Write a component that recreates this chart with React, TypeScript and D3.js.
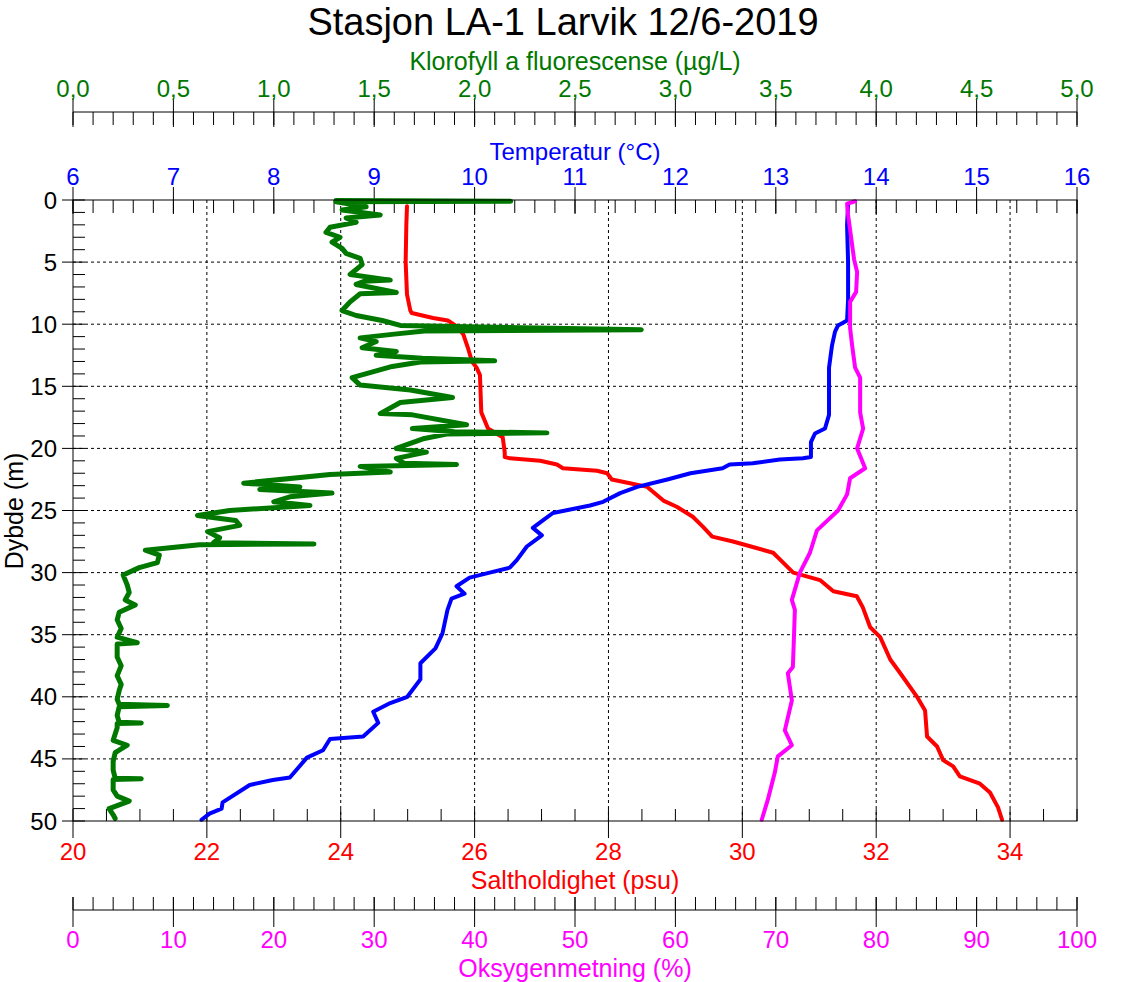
import React from 'react';
import * as d3 from 'd3';

const width = 1127;
const height = 982;
const left = 73, right = 1077, top = 200, bottom = 821;
const font = 'Liberation Sans, Arial, sans-serif';

// depth (m) / value pairs
const tempDepth = [0.4, 2, 5, 8, 9.7, 10.1, 10.6, 11.7, 13.5, 17.3, 18.4, 18.8, 19.5, 20.7, 20.8, 20.9, 21.2, 21.3, 21.6, 22, 22.5, 23.1, 23.6, 24.3, 24.6, 25.2, 25.8, 26.4, 27, 27.9, 29, 29.6, 30, 30.4, 31.1, 31.7, 32.1, 33, 34.9, 36.1, 37.3, 38.6, 40, 40.5, 41.2, 42.1, 43.2, 43.4, 44.3, 44.9, 46.5, 46.7, 47.1, 48.5, 49, 49.4, 49.9];
const tempValues = [13.72, 13.71, 13.72, 13.72, 13.71, 13.62, 13.59, 13.56, 13.53, 13.53, 13.49, 13.39, 13.35, 13.35, 13.27, 13.04, 12.77, 12.54, 12.47, 12.15, 11.92, 11.62, 11.45, 11.28, 11.15, 10.78, 10.68, 10.58, 10.67, 10.52, 10.42, 10.35, 10.15, 9.95, 9.82, 9.9, 9.77, 9.73, 9.68, 9.61, 9.46, 9.46, 9.33, 9.16, 8.99, 9.04, 8.89, 8.56, 8.49, 8.33, 8.16, 7.99, 7.76, 7.49, 7.48, 7.36, 7.28];

const salDepth = [0.5, 2, 5, 7.6, 8.9, 9.1, 9.5, 9.7, 10.2, 10.8, 11.9, 13, 13.5, 14.1, 17.1, 18.4, 19.1, 20.3, 20.7, 20.8, 21, 21.3, 21.6, 21.8, 22, 22.5, 22.8, 23.1, 24.2, 24.7, 25.5, 26.3, 27.1, 27.5, 28.4, 29.2, 30, 30.6, 31.5, 31.9, 32.8, 34.4, 35.2, 37, 38.1, 40, 41.1, 43.2, 44, 45.1, 45.6, 46.4, 47, 47.7, 48.9, 49.9];
const salValues = [24.99, 24.98, 24.97, 24.99, 25.04, 25.06, 25.38, 25.6, 25.74, 25.83, 25.9, 25.96, 26.03, 26.08, 26.1, 26.2, 26.42, 26.45, 26.45, 26.53, 26.98, 27.23, 27.32, 27.83, 27.98, 28.05, 28.32, 28.58, 28.82, 29.02, 29.26, 29.41, 29.55, 29.86, 30.46, 30.61, 30.76, 31.16, 31.36, 31.71, 31.8, 31.91, 32.06, 32.21, 32.36, 32.61, 32.73, 32.76, 32.91, 33.0, 33.15, 33.25, 33.55, 33.7, 33.82, 33.88];

const oxyDepth = [0.1, 0.3, 1.2, 3.6, 4.8, 5.8, 7.4, 8.2, 10.3, 11.7, 13.5, 14.3, 17.1, 18.4, 20, 21.6, 22.4, 23.7, 25, 26.6, 28.4, 30, 32.2, 33, 35.4, 37.6, 38.1, 40.3, 42.7, 43.9, 44.8, 46.1, 48.3, 49.9];
const oxyValues = [77.9, 77.1, 77.2, 77.6, 77.8, 78.1, 78.0, 77.4, 77.4, 77.6, 77.9, 78.4, 78.4, 78.7, 78.1, 78.9, 77.4, 77.1, 76.2, 74.1, 73.4, 72.4, 71.6, 71.9, 71.8, 71.7, 71.2, 71.6, 70.9, 71.6, 70.2, 69.9, 69.2, 68.6];

const chlDepth = [0.05, 0.1, 0.15, 0.55, 0.8, 1.2, 1.45, 1.8, 2.2, 2.6, 3.0, 3.4, 3.9, 4.3, 4.7, 5.2, 6.0, 6.45, 6.55, 6.8, 7.45, 7.55, 8.2, 8.9, 9.3, 9.7, 10.1, 10.45, 10.55, 10.8, 11.1, 11.4, 11.9, 12.2, 12.5, 12.75, 12.95, 13.05, 13.4, 14.3, 14.9, 15.3, 15.9, 16.3, 17.2, 17.3, 18.1, 18.4, 18.65, 18.75, 18.85, 19.2, 20.0, 20.3, 20.8, 21.2, 21.3, 21.45, 21.9, 22.1, 22.8, 23.1, 23.3, 23.6, 23.9, 24.3, 24.6, 25.0, 25.4, 25.8, 26.2, 26.7, 27.2, 27.6, 27.7, 27.75, 28.2, 28.6, 29.2, 29.6, 30.2, 31.0, 31.6, 32.2, 32.6, 33.2, 33.8, 34.5, 35.2, 35.65, 35.75, 36.3, 36.8, 37.5, 38.3, 39.0, 39.5, 40.2, 40.6, 40.7, 40.8, 41.5, 42.05, 42.1, 42.15, 42.5, 43.0, 43.5, 43.9, 44.5, 45.2, 45.9, 46.55, 46.6, 46.65, 47.0, 47.5, 48.0, 48.4, 49.0, 49.5, 49.8];
const chlValues = [1.31, 2.18, 1.31, 1.46, 1.34, 1.53, 1.36, 1.41, 1.28, 1.26, 1.33, 1.29, 1.34, 1.36, 1.43, 1.44, 1.38, 1.58, 1.45, 1.41, 1.61, 1.43, 1.38, 1.34, 1.41, 1.54, 1.63, 2.83, 1.75, 1.6, 1.43, 1.51, 1.44, 1.61, 1.51, 1.74, 2.10, 1.73, 1.59, 1.39, 1.43, 1.68, 1.89, 1.63, 1.53, 1.69, 1.96, 1.69, 1.9, 2.36, 1.86, 1.75, 1.61, 1.76, 1.61, 1.65, 1.91, 1.43, 1.58, 1.28, 0.85, 1.13, 0.93, 1.29, 1.08, 1.00, 1.18, 0.78, 0.62, 0.81, 0.83, 0.67, 0.73, 0.7, 1.20, 0.63, 0.36, 0.43, 0.42, 0.33, 0.25, 0.27, 0.28, 0.26, 0.31, 0.23, 0.22, 0.24, 0.22, 0.32, 0.22, 0.22, 0.22, 0.24, 0.22, 0.24, 0.23, 0.22, 0.23, 0.47, 0.23, 0.22, 0.23, 0.34, 0.22, 0.22, 0.21, 0.20, 0.27, 0.21, 0.20, 0.20, 0.21, 0.34, 0.20, 0.20, 0.20, 0.22, 0.28, 0.18, 0.20, 0.21];

const xChl = d3.scaleLinear().domain([0, 5]).range([left, right]);
const xTemp = d3.scaleLinear().domain([6, 16]).range([left, right]);
const xSal = d3.scaleLinear().domain([20, 35]).range([left, right]);
const xOxy = d3.scaleLinear().domain([0, 100]).range([left, right]);
const y = d3.scaleLinear().domain([0, 50]).range([top, bottom]);

const GREEN = '#007800';
const BLUE = '#0000ff';
const RED = '#ff0000';
const MAGENTA = '#ff00ff';

function profile(depths: number[], values: number[], x: d3.ScaleLinear<number, number>) {
  const line = d3.line<number>().x((v) => x(v)).y((_, i) => y(depths[i]));
  return line(values) || '';
}

const range = (a: number, b: number, step: number) => d3.range(0, Math.round((b - a) / step) + 1).map((i) => a + i * step);

const comma = (v: number) => d3.format('.1f')(v).replace('.', ',');

export default function App() {
  const chlMinor = range(0, 5, 0.1);
  const chlMajor = range(0, 5, 0.5);
  const tMinor = range(6, 16, 0.2);
  const tMajor = range(6, 16, 1);
  const sMinor = range(20, 35, 0.5);
  const sMajor = range(20, 34, 2);
  const oMinor = range(0, 100, 2);
  const oMajor = range(0, 100, 10);
  const dMinor = range(0, 50, 1);
  const dMajor = range(0, 50, 5);
  const chlAxisY = 112;
  const oxyAxisY = 910;

  return (
    <div style={{ position: 'absolute', left: 0, top: 0 }}>
      <svg width={width} height={height} style={{ display: 'block', background: '#fff' }} fontFamily={font}>
        <text x={563} y={35} textAnchor="middle" fontSize={38}>Stasjon LA-1 Larvik 12/6-2019</text>

        {/* gridlines */}
        <g stroke="#000" strokeWidth={1} strokeDasharray="3,3">
          {sMajor.filter((s) => s > 20).map((s) => (
            <line key={'gx' + s} x1={xSal(s)} x2={xSal(s)} y1={top} y2={bottom} />
          ))}
          {dMajor.filter((d) => d > 0 && d < 50).map((d) => (
            <line key={'gy' + d} x1={left} x2={right} y1={y(d)} y2={y(d)} />
          ))}
        </g>

        {/* chlorophyll axis */}
        <g stroke="#000" strokeWidth={1}>
          <line x1={left} x2={right} y1={chlAxisY} y2={chlAxisY} />
          {chlMinor.map((c) => <line key={'cm' + c} x1={xChl(c)} x2={xChl(c)} y1={chlAxisY} y2={chlAxisY + 13} />)}
          {chlMajor.map((c) => <line key={'cM' + c} x1={xChl(c)} x2={xChl(c)} y1={chlAxisY - 14} y2={chlAxisY + 15} />)}
        </g>
        <g fill={GREEN} fontSize={24} textAnchor="middle">
          {chlMajor.map((c) => <text key={'cl' + c} x={xChl(c)} y={97}>{comma(c)}</text>)}
          <text x={575} y={70} fontSize={25}>Klorofyll a fluorescense (µg/L)</text>
        </g>

        {/* temperature axis */}
        <g stroke="#000" strokeWidth={1}>
          {tMinor.map((t) => <line key={'tm' + t} x1={xTemp(t)} x2={xTemp(t)} y1={top} y2={top + 13} />)}
          {tMajor.map((t) => <line key={'tM' + t} x1={xTemp(t)} x2={xTemp(t)} y1={top - 13} y2={top + 14} />)}
        </g>
        <g fill={BLUE} fontSize={24} textAnchor="middle">
          {tMajor.map((t) => <text key={'tl' + t} x={xTemp(t)} y={185}>{t}</text>)}
          <text x={575} y={160} fontSize={24}>Temperatur (°C)</text>
        </g>

        {/* depth axis */}
        <g stroke="#000" strokeWidth={1}>
          {dMinor.map((d) => <line key={'dm' + d} x1={left} x2={left + 12} y1={y(d)} y2={y(d)} />)}
          {dMajor.map((d) => <line key={'dM' + d} x1={left - 11} x2={left} y1={y(d)} y2={y(d)} />)}
        </g>
        <g fill="#000" fontSize={24} textAnchor="end">
          {dMajor.map((d) => <text key={'dl' + d} x={57} y={y(d) + 8.5}>{d}</text>)}
        </g>
        <text transform="translate(23,511) rotate(-90)" textAnchor="middle" fontSize={25}>Dybde (m)</text>

        {/* salinity axis */}
        <g stroke="#000" strokeWidth={1}>
          {sMinor.map((s) => <line key={'sm' + s} x1={xSal(s)} x2={xSal(s)} y1={bottom - 12} y2={bottom} />)}
          {sMajor.map((s) => <line key={'sM' + s} x1={xSal(s)} x2={xSal(s)} y1={bottom} y2={bottom + 17} />)}
        </g>
        <g fill={RED} fontSize={24} textAnchor="middle">
          {sMajor.map((s) => <text key={'sl' + s} x={xSal(s)} y={860}>{s}</text>)}
          <text x={575} y={889} fontSize={25}>Saltholdighet (psu)</text>
        </g>

        {/* oxygen axis */}
        <g stroke="#000" strokeWidth={1}>
          <line x1={left} x2={right} y1={oxyAxisY} y2={oxyAxisY} />
          {oMinor.map((o) => <line key={'om' + o} x1={xOxy(o)} x2={xOxy(o)} y1={oxyAxisY - 13} y2={oxyAxisY} />)}
          {oMajor.map((o) => <line key={'oM' + o} x1={xOxy(o)} x2={xOxy(o)} y1={oxyAxisY - 13} y2={oxyAxisY + 17} />)}
        </g>
        <g fill={MAGENTA} fontSize={24} textAnchor="middle">
          {oMajor.map((o) => <text key={'ol' + o} x={xOxy(o)} y={948}>{o}</text>)}
          <text x={575} y={977} fontSize={25}>Oksygenmetning (%)</text>
        </g>

        {/* profiles */}
        <g fill="none" strokeLinejoin="round" strokeLinecap="round">
          <path d={profile(salDepth, salValues, xSal)} stroke={RED} strokeWidth={4} />
          <path d={profile(chlDepth, chlValues, xChl)} stroke={GREEN} strokeWidth={5} />
          <path d={profile(tempDepth, tempValues, xTemp)} stroke={BLUE} strokeWidth={4} />
          <path d={profile(oxyDepth, oxyValues, xOxy)} stroke={MAGENTA} strokeWidth={4} />
        </g>

        {/* frame */}
        <rect x={left} y={top} width={right - left} height={bottom - top} fill="none" stroke="#000" strokeWidth={1} />
      </svg>
    </div>
  );
}
